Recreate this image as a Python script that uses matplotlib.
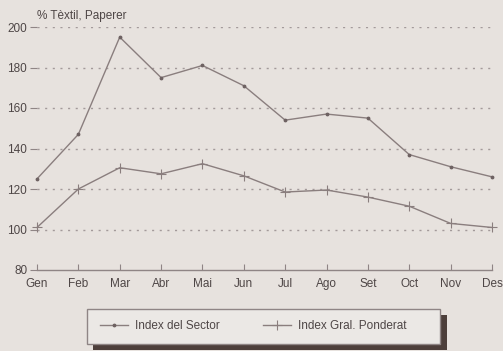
import matplotlib
matplotlib.use("Agg")
import matplotlib.pyplot as plt
from matplotlib.patches import Rectangle

# ── Dades ──────────────────────────────────────────────
mesos = ["Gen", "Feb", "Mar", "Abr", "Mai", "Jun",
         "Jul", "Ago", "Set", "Oct", "Nov", "Des"]
index_sector = [125, 147, 195, 175, 181, 171, 154, 157, 155, 137, 131, 126]
index_gral = [101, 120, 130.5, 127.5, 132.5, 126.5, 118.5, 119.5, 116, 111.5, 103, 101]
y_ticks = [80, 100, 120, 140, 160, 180, 200]

paper = "#e7e2de"
ink = "#4e4646"
line_col = "#8a7e7e"

plt.rcParams["font.family"] = ["Liberation Sans", "DejaVu Sans"]

fig = plt.figure(figsize=(5.03, 3.51), dpi=100, facecolor=paper)
ax = fig.add_axes([37 / 503, 1 - 270 / 351, 455 / 503, 243 / 351])
ax.set_facecolor(paper)

x = list(range(len(mesos)))
ax.plot(x, index_sector, color=line_col, lw=1.0, marker=".", ms=3.5,
        mec="#6e6262", mfc="#6e6262", clip_on=False, label="Index del Sector", zorder=3)
ax.plot(x, index_gral, color=line_col, lw=1.0, marker="+", ms=7, mew=0.8,
        clip_on=False, label="Index Gral. Ponderat", zorder=3)

# graella puntejada
for v in y_ticks[1:]:
    ax.axhline(v, color="#a39a9a", lw=1.0, ls=(0, (1.5, 4)), zorder=1)

ax.set_xlim(0, 11)
ax.set_ylim(80, 200)
ax.set_xticks(x)
ax.set_xticklabels(mesos)
ax.set_yticks(y_ticks)

for s in ["top", "right", "left"]:
    ax.spines[s].set_visible(False)
ax.spines["bottom"].set_color("#8f8585")
ax.spines["bottom"].set_linewidth(1.0)

ax.tick_params(axis="x", direction="in", length=4, color="#8f8585",
               labelsize=8.5, labelcolor=ink, pad=6)
ax.tick_params(axis="y", direction="out", length=5, color="#8f8585",
               labelsize=8.5, labelcolor=ink, pad=2)

fig.text(37 / 503, 1 - 16 / 351, "% Tèxtil, Paperer", fontsize=8.5,
         color=ink, ha="left", va="center")

# caixa de la llegenda amb ombra
shadow = Rectangle((93 / 503, 1 - 350 / 351), 354 / 503, 35 / 351,
                   transform=fig.transFigure, facecolor="#4d3f3b",
                   edgecolor="none", zorder=0)
box = Rectangle((87 / 503, 1 - 344 / 351), 353 / 503, 35 / 351,
                transform=fig.transFigure, facecolor="#ebe8e5",
                edgecolor="#8f8585", lw=1.0, zorder=1)
fig.patches.extend([shadow, box])

leg = fig.legend(loc="center left", bbox_to_anchor=(100 / 503, 1 - 326 / 351),
                 ncol=2, frameon=False, fontsize=8.5, labelcolor=ink,
                 handlelength=2.4, handletextpad=0.6, columnspacing=3.6,
                 borderpad=0, borderaxespad=0)
leg.set_zorder(5)

fig.savefig("out.png", dpi=100, facecolor=paper)
